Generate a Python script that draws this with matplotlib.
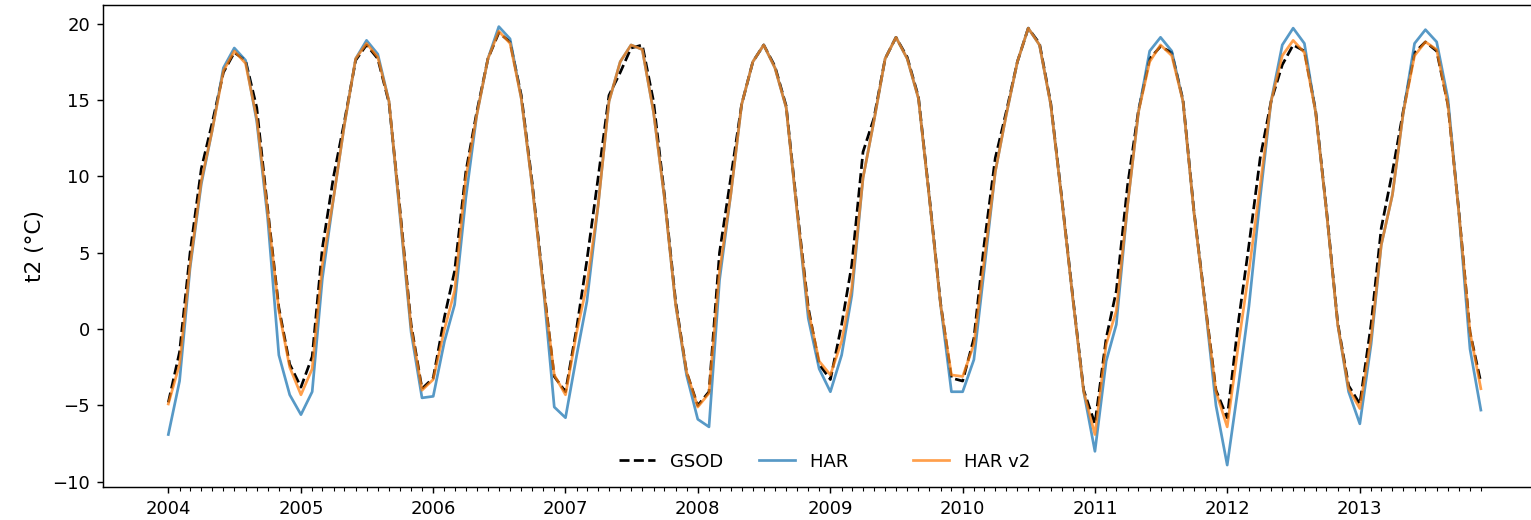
import matplotlib
matplotlib.use("Agg")
import matplotlib.pyplot as plt
import matplotlib.dates as mdates
import pandas as pd

# Monthly mean 2 m air temperature (°C), January 2004 - December 2013
months = pd.date_range("2004-01-01", periods=120, freq="MS")

gsod = [
    -4.8, -1.5, 5.0, 10.5, 13.5, 16.8, 18.1, 17.6, 14.5, 7.9, 1.4, -2.3,
    -3.8, -1.8, 5.3, 10.0, 13.6, 17.6, 18.6, 17.7, 14.8, 7.9, 0.3, -3.9,
    -3.2, 0.8, 3.8, 10.3, 14.2, 17.7, 19.4, 18.8, 15.3, 9.6, 2.9, -3.1,
    -4.1, 0.1, 4.5, 9.9, 15.3, 16.8, 18.4, 18.6, 14.9, 8.8, 1.8, -2.8,
    -5.0, -4.1, 5.0, 9.9, 14.7, 17.5, 18.6, 17.2, 14.6, 7.9, 1.4, -2.3,
    -3.3, 0.3, 4.2, 11.6, 13.8, 17.7, 19.1, 17.8, 15.2, 8.7, 1.7, -3.2,
    -3.4, -0.6, 5.5, 11.2, 14.2, 17.5, 19.7, 18.7, 14.8, 8.7, 2.1, -4.0,
    -6.2, -0.6, 2.5, 9.4, 14.3, 17.7, 18.5, 18.1, 15.0, 7.8, 1.7, -4.0,
    -5.8, 0.5, 5.5, 11.2, 14.9, 17.3, 18.6, 18.2, 14.3, 7.8, 0.4, -3.7,
    -4.9, 0.3, 6.6, 10.3, 14.3, 18.1, 18.8, 18.2, 14.7, 7.8, -0.2, -3.5,
]

har = [
    -6.9, -3.4, 4.0, 9.5, 13.0, 17.1, 18.4, 17.6, 13.6, 7.3, -1.7, -4.3,
    -5.6, -4.1, 3.3, 8.6, 13.4, 17.7, 18.9, 18.0, 14.9, 7.5, -0.2, -4.5,
    -4.4, -0.8, 1.6, 8.6, 14.0, 17.7, 19.8, 19.0, 15.1, 9.4, 2.7, -5.1,
    -5.8, -1.7, 1.8, 8.1, 14.9, 17.5, 18.6, 18.3, 14.2, 8.6, 1.6, -3.0,
    -5.9, -6.4, 3.2, 8.8, 14.7, 17.5, 18.6, 17.1, 14.5, 7.7, 0.7, -2.6,
    -4.1, -1.7, 2.2, 9.9, 13.6, 17.7, 19.1, 17.7, 15.1, 8.6, 1.6, -4.1,
    -4.1, -2.0, 3.8, 10.3, 14.0, 17.5, 19.7, 18.6, 14.7, 8.6, 2.0, -4.1,
    -8.0, -2.1, 0.3, 8.1, 14.2, 18.2, 19.1, 18.2, 14.9, 7.7, 1.6, -5.0,
    -8.9, -3.7, 1.5, 8.6, 14.9, 18.6, 19.7, 18.7, 14.2, 7.7, 0.3, -4.1,
    -6.2, -1.0, 5.5, 8.8, 14.2, 18.7, 19.6, 18.8, 15.1, 7.7, -1.3, -5.3,
]

har_v2 = [
    -4.9, -2.3, 4.2, 9.7, 13.0, 16.9, 18.2, 17.4, 13.8, 7.7, 1.2, -2.5,
    -4.3, -2.6, 4.2, 8.6, 13.4, 17.7, 18.7, 17.8, 14.9, 7.7, 0.1, -4.0,
    -3.3, 0.0, 2.5, 9.9, 14.0, 17.7, 19.5, 18.7, 15.1, 9.4, 2.7, -3.0,
    -4.3, -0.2, 2.9, 8.1, 14.9, 17.5, 18.6, 18.3, 14.2, 8.6, 1.6, -2.8,
    -5.1, -4.2, 3.8, 8.8, 14.7, 17.5, 18.6, 17.1, 14.5, 7.7, 1.2, -2.1,
    -3.0, -0.8, 2.7, 9.9, 13.6, 17.7, 19.1, 17.7, 15.1, 8.6, 1.6, -3.0,
    -3.1, -1.0, 4.4, 10.3, 14.0, 17.5, 19.7, 18.6, 14.7, 8.6, 2.0, -4.1,
    -6.9, -1.0, 1.2, 8.1, 14.2, 17.5, 18.6, 17.9, 14.9, 7.7, 1.6, -4.1,
    -6.4, -1.0, 3.8, 9.4, 14.9, 17.9, 18.9, 18.1, 14.2, 7.7, 0.3, -3.9,
    -5.2, -0.6, 5.5, 8.8, 14.2, 17.9, 18.8, 18.3, 14.7, 7.7, -0.2, -3.9,
]

series_labels = ["GSOD", "HAR", "HAR v2"]

DPI = 130
fig = plt.figure(figsize=(1531 / DPI, 520 / DPI), dpi=DPI)
ax = fig.add_axes([102.7 / 1531, 1 - 487 / 520,
                   (1546.5 - 102.7) / 1531, (487 - 4.7) / 520])

ax.plot(months, gsod, color="black", linestyle="--", label=series_labels[0])
ax.plot(months, har, color="tab:blue", alpha=0.75, label=series_labels[1])
ax.plot(months, har_v2, color="tab:orange", alpha=0.75, label=series_labels[2])

# Year ticks on each January, a minor tick on every month of the record
ax.set_xticks(months[::12])
ax.set_xticks(months, minor=True)
ax.xaxis.set_major_formatter(mdates.DateFormatter("%Y"))

ax.set_ylabel("t2 (°C)", fontsize=12)

handles, labels = ax.get_legend_handles_labels()
labels = [labels[0], labels[1] + "     ", labels[2]]
ax.legend(handles, labels, loc="lower center", ncol=3, frameon=False)

fig.savefig("out.png", dpi=DPI)
